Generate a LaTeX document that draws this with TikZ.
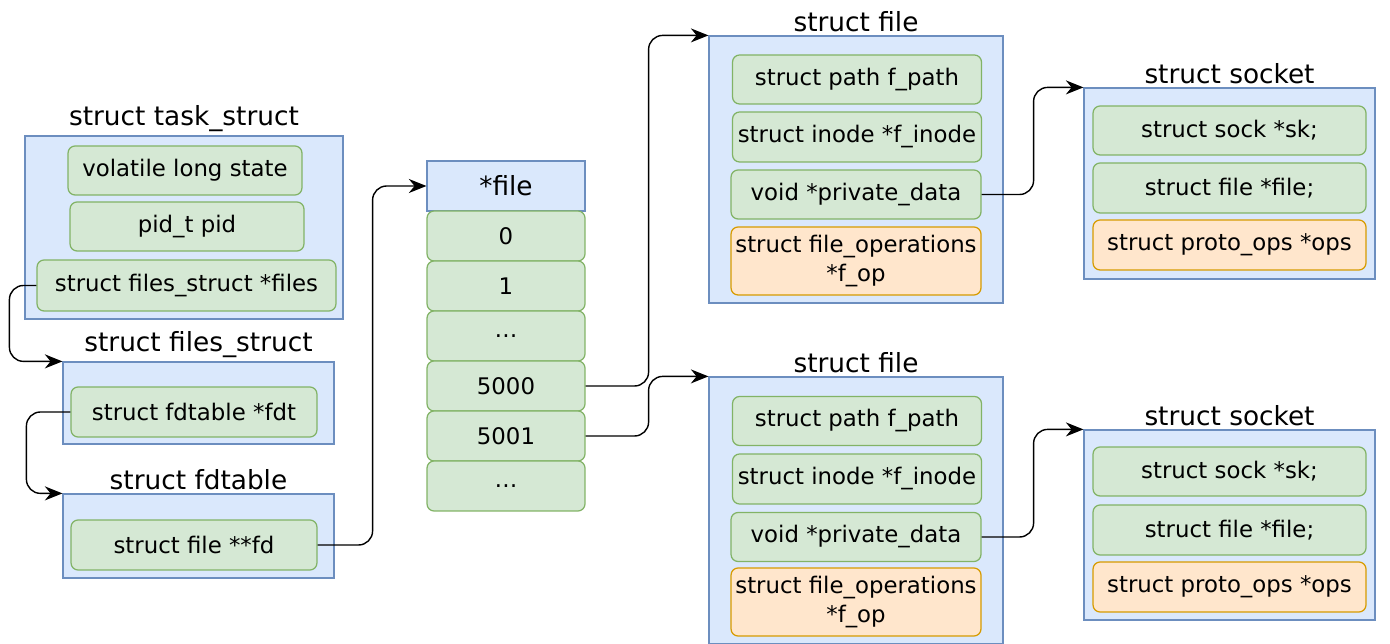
\documentclass[tikz,border=0pt]{standalone}
\usepackage{fontspec}
\setmainfont{DejaVu Sans}
\usetikzlibrary{arrows.meta,positioning}
\definecolor{boxblue}{HTML}{DAE8FC}
\definecolor{lineblue}{HTML}{6C8EBF}
\definecolor{boxgreen}{HTML}{D5E8D4}
\definecolor{linegreen}{HTML}{82B366}
\definecolor{boxorange}{HTML}{FFE6CC}
\definecolor{lineorange}{HTML}{D79B00}
\tikzset{
  outer/.style={draw=lineblue,fill=boxblue,line width=0.7pt,inner sep=0pt},
  field/.style={draw=linegreen,fill=boxgreen,rounded corners=4pt,line width=0.7pt,
    font=\fontsize{13}{17}\selectfont,align=center,inner sep=0pt},
  opsfield/.style={field,draw=lineorange,fill=boxorange},
  hdr/.style={outer,font=\fontsize{15}{18}\selectfont,minimum width=3.16cm,minimum height=1cm},
  cell/.style={field,minimum width=3.16cm,minimum height=1cm},
  structname/.style={font=\fontsize{15}{18}\selectfont,inner sep=2pt},
  link/.style={-{Stealth[length=10pt,width=8pt]},line width=0.8pt,rounded corners=8pt},
}
\begin{document}
\begin{tikzpicture}[x=0.02cm,y=-0.02cm]
  \useasboundingbox (0,0) rectangle (1390,644);

  % --- task_struct -> files_struct -> fdtable -----------------------------
  \node[outer,minimum width=6.36cm,minimum height=3.66cm] (task) at (184,227.5) {};
  \node[structname,above=0pt of task] (tasktitle) {struct task\_struct};
  \node[field,minimum width=4.68cm,minimum height=0.98cm] (state) at (185,170.5) {volatile long state};
  \node[field,minimum width=4.68cm,minimum height=0.98cm] (pid) at (187,226.5) {pid\_t pid};
  \node[field,minimum width=5.98cm,minimum height=1.02cm] (files) at (186.5,285.5) {struct files\_struct *files};

  \node[outer,minimum width=5.42cm,minimum height=1.64cm] (fs) at (198.5,403) {};
  \node[structname,above=0pt of fs] (fstitle) {struct files\_struct};
  \node[field,minimum width=4.92cm,minimum height=1cm] (fdt) at (194,412) {struct fdtable *fdt};

  \node[outer,minimum width=5.42cm,minimum height=1.68cm] (fdtab) at (198.5,536) {};
  \node[structname,above=0pt of fdtab] (fdtabtitle) {struct fdtable};
  \node[field,minimum width=4.92cm,minimum height=1cm] (fd) at (194,545) {struct file **fd};

  % --- fd array ------------------------------------------------------------
  \node[hdr] (hdr) at (506,186) {*file};
  \foreach \nm/\txt/\yy in
      {c0/0/236, c1/1/286, ca/\ldots/336, c5000/5000/386, c5001/5001/436, cb/\ldots/486}
    \node[cell] (\nm) at (506,\yy) {\txt};

  % --- struct file (top / bottom) -----------------------------------------
  \node[outer,minimum width=5.88cm,minimum height=5.34cm] (ftop) at (856,169.5) {};
  \node[structname,above=0pt of ftop] (ftoptitle) {struct file};
  \node[field,minimum width=4.98cm,minimum height=0.98cm] (path1) at (857,79.5) {struct path f\_path};
  \node[field,minimum width=4.98cm,minimum height=1cm] (inode1) at (857,137) {struct inode *f\_inode};
  \node[field,minimum width=5cm,minimum height=0.98cm] (priv1) at (856,194.5) {void *private\_data};
  \node[opsfield,minimum width=5cm,minimum height=1.36cm] (fop1) at (856,261) {struct file\_operations\\*f\_op};

  \node[outer,minimum width=5.88cm,minimum height=5.34cm] (fbot) at (856,510.5) {};
  \node[structname,above=0pt of fbot] (fbottitle) {struct file};
  \node[field,minimum width=4.98cm,minimum height=0.98cm] (path2) at (857,421) {struct path f\_path};
  \node[field,minimum width=4.98cm,minimum height=1cm] (inode2) at (857,479) {struct inode *f\_inode};
  \node[field,minimum width=5cm,minimum height=0.98cm] (priv2) at (856,537) {void *private\_data};
  \node[opsfield,minimum width=5cm,minimum height=1.36cm] (fop2) at (856,602) {struct file\_operations\\*f\_op};

  % --- struct socket (top / bottom) ---------------------------------------
  \node[outer,minimum width=5.82cm,minimum height=3.82cm] (sock1) at (1229.5,183.5) {};
  \node[structname,above=0pt of sock1] (sock1title) {struct socket};
  \node[field,minimum width=5.46cm,minimum height=0.98cm] (sk1) at (1229.5,130.5) {struct sock *sk;};
  \node[field,minimum width=5.46cm,minimum height=1cm] (sfile1) at (1229.5,188) {struct file *file;};
  \node[opsfield,minimum width=5.46cm,minimum height=1cm] (ops1) at (1229.5,245) {struct proto\_ops *ops};

  \node[outer,minimum width=5.82cm,minimum height=3.8cm] (sock2) at (1229.5,525) {};
  \node[structname,above=0pt of sock2] (sock2title) {struct socket};
  \node[field,minimum width=5.46cm,minimum height=0.98cm] (sk2) at (1229.5,471.5) {struct sock *sk;};
  \node[field,minimum width=5.46cm,minimum height=1cm] (sfile2) at (1229.5,530) {struct file *file;};
  \node[opsfield,minimum width=5.46cm,minimum height=1cm] (ops2) at (1229.5,587) {struct proto\_ops *ops};

  % --- pointers ------------------------------------------------------------
  \draw[link] (files.west) -- ++(-27,0) |- (fs.north west);
  \draw[link] (fdt.west) -- ++(-44,0) |- (fdtab.north west);
  \draw[link] (fd.east) -- ++(55,0) |- (hdr.west);
  \draw[link] (c5000.east) -- ++(63,0) |- (ftop.north west);
  \draw[link] (c5001.east) -- ++(63,0) |- (fbot.north west);
  \draw[link] (priv1.east) -- ++(52,0) |- (sock1.north west);
  \draw[link] (priv2.east) -- ++(52,0) |- (sock2.north west);
\end{tikzpicture}
\end{document}
